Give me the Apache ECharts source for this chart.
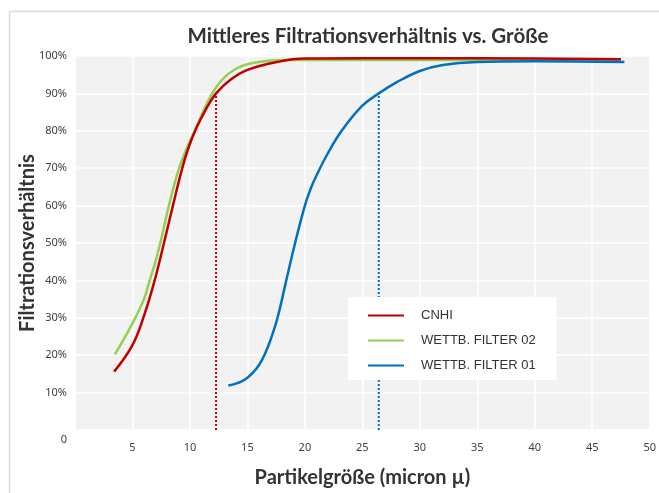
<!DOCTYPE html>
<html>
<head>
<meta charset="utf-8">
<script src="https://cdn.jsdelivr.net/npm/echarts@6/dist/echarts.min.js"></script>
<style>html,body{margin:0;padding:0;background:#fff}#c{width:659px;height:493px}</style>
</head>
<body>
<div id="c"></div>
<script>
const titleText = 'Mittleres Filtrationsverhältnis vs. Größe';
const xAxisName = 'Partikelgröße (micron µ)';
const yAxisName = 'Filtrationsverhältnis';
const xTickLabels = ['', '5', '10', '15', '20', '25', '30', '35', '40', '45', '50'];
const yTickLabels = ['0', '10%', '20%', '30%', '40%', '50%', '60%', '70%', '80%', '90%', '100%'];
const seriesNames = ['CNHI', 'WETTB. FILTER 02', 'WETTB. FILTER 01'];

const cnhiX = [3.4, 5, 6, 6.93, 7.74, 8.52, 9.2, 9.82, 10.54, 11.4, 12.27, 13.5, 15, 17.76, 20, 25, 30, 40, 47.5];
const cnhiY = [15.6, 22.7, 30.5, 40, 50, 60, 68.5, 75, 80.6, 85.8, 90, 93.6, 96.3, 98.5, 99.3, 99.4, 99.4, 99.3, 99.1];

const filter02X = [3.47, 5, 6, 6.5, 7, 7.5, 8.17, 9, 9.68, 10.4, 11.2, 11.84, 12.27, 13, 14, 15, 16.5, 17.76, 20, 30, 47.5];
const filter02Y = [20.2, 28.5, 35, 40, 45, 51, 60, 69.5, 75, 80, 85.5, 89.5, 91.6, 94.3, 96.6, 97.8, 98.6, 98.9, 99, 98.9, 98.9];

const filter01X = [13.34, 14, 14.5, 15, 15.5, 16, 16.5, 17, 17.62, 18.38, 19.15, 20, 20.5, 21, 22, 23.2, 25, 26.43, 28, 30, 32, 35, 40, 47.8];
const filter01Y = [11.9, 12.4, 13, 14, 15.4, 17.3, 20.2, 24, 30, 40, 50, 60, 64.5, 68, 74, 80, 86.7, 90, 93, 96, 97.6, 98.4, 98.6, 98.4];

const refX = [12.27, 26.43];
const refLevel = 90;

const colors = ['#C00000', '#92D050', '#0070C0'];
const zip = (xs, ys) => xs.map((x, i) => [x, ys[i]]);

const chart = echarts.init(document.getElementById('c'), null, {renderer: 'canvas'});
const lineSeries = (name, xs, ys, color, z) => ({
  name, type: 'line', data: zip(xs, ys), smooth: 0.4,
  symbol: 'none', z, lineStyle: {color, width: 2.5}, itemStyle: {color}
});
const refSeries = (x, color) => ({
  type: 'line', data: [[x, 0], [x, refLevel]], symbol: 'none', silent: true,
  lineStyle: {color, width: 2, type: [2, 2]}, z: 1
});

chart.setOption({
  animation: false,
  backgroundColor: '#fff',
  graphic: [{
    type: 'rect', left: 7, top: 9, shape: {width: 700, height: 600},
    style: {fill: 'none', stroke: '#d9d9d9', lineWidth: 1.5}, silent: true
  }],
  title: {
    text: titleText, left: 363, top: 21, textAlign: 'center',
    textStyle: {fontFamily: 'Lato', fontWeight: 'bold', fontSize: 20.5, color: '#333'}
  },
  grid: {left: 75, right: 7, top: 56, bottom: 61, show: true, backgroundColor: '#F2F2F2', borderWidth: 0},
  legend: {
    orient: 'vertical', left: 348, top: 297,
    backgroundColor: '#fff', padding: [12, 21, 8, 19],
    itemWidth: 36, itemHeight: 14, itemGap: 12,
    itemStyle: {opacity: 0},
    data: seriesNames,
    textStyle: {fontFamily: 'Liberation Sans', fontSize: 13, color: '#333', padding: [0, 0, 0, 12]}
  },
  xAxis: {
    type: 'value', min: 0, max: 50, interval: 5,
    name: xAxisName, nameLocation: 'middle', nameGap: 38, nameMoveOverlap: false,
    nameTextStyle: {fontFamily: 'Lato', fontWeight: 'bold', fontSize: 20, color: '#333'},
    axisLine: {show: false}, axisTick: {show: false},
    axisLabel: {formatter: v => xTickLabels[Math.round(v / 5)], fontFamily: 'Noto Sans', fontSize: 11, color: '#404040', margin: 12},
    splitLine: {show: true, lineStyle: {color: '#fff', width: 1.5}}
  },
  yAxis: {
    type: 'value', min: 0, max: 100, interval: 10,
    name: yAxisName, nameLocation: 'middle', nameGap: 37, nameMoveOverlap: false,
    nameTextStyle: {fontFamily: 'Lato', fontWeight: 'bold', fontSize: 20, color: '#333'},
    axisLine: {show: false}, axisTick: {show: false},
    axisLabel: {
      formatter: v => { const t = yTickLabels[Math.round(v / 10)]; return v === 0 ? '{z|' + t + '}' : t; },
      rich: {z: {fontFamily: 'Noto Sans', fontSize: 11, color: '#404040', padding: [20, 0, 0, 0]}},
      fontFamily: 'Noto Sans', fontSize: 11, color: '#404040', margin: 8
    },
    splitLine: {show: true, lineStyle: {color: '#fff', width: 1.5}}
  },
  series: [
    refSeries(refX[0], colors[0]),
    refSeries(refX[1], colors[2]),
    lineSeries(seriesNames[1], filter02X, filter02Y, colors[1], 2),
    lineSeries(seriesNames[0], cnhiX, cnhiY, colors[0], 3),
    lineSeries(seriesNames[2], filter01X, filter01Y, colors[2], 4)
  ]
});
</script>
</body>
</html>
